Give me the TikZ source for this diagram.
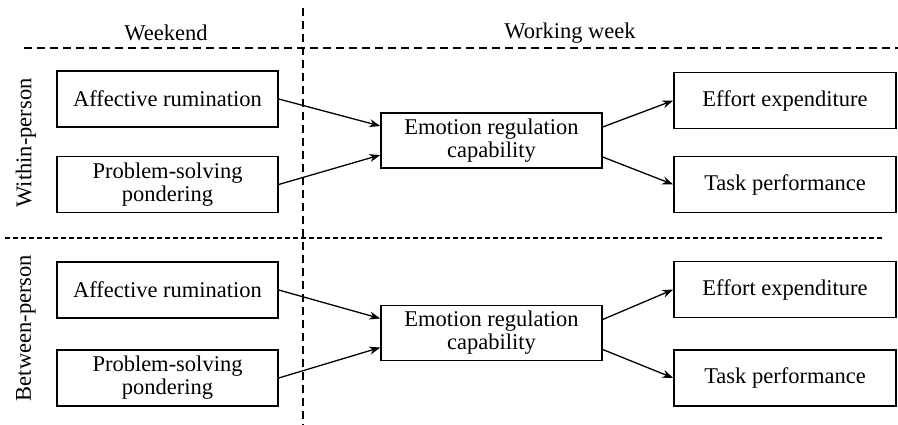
\documentclass[tikz,border=0pt]{standalone}
\usepackage{fontspec}
\setmainfont{LiberationSerif}[Extension=.ttf, UprightFont=*-Regular, BoldFont=*-Bold]
\usetikzlibrary{arrows.meta}
\begin{document}
\begin{tikzpicture}[x=1pt,y=-1pt,
  every node/.style={font=\rmfamily\fontsize{22.5}{23}\selectfont},
  varbox/.style={draw, line width=1.4pt, minimum width=221pt, minimum height=56pt,
    align=center, inner sep=0pt},
  link/.style={line width=1.3pt, -{Stealth[length=11pt,width=8pt]}},
  divider/.style={line width=1.2pt, dash pattern=on 8pt off 5pt},
  subdivider/.style={line width=1.2pt, dash pattern=on 5pt off 3pt}]
\path[use as bounding box] (0,0) rectangle (898,425);

% section dividers
\draw[divider] (303,8) -- (303,425);
\draw[divider] (24,48) -- (898,48);
\draw[subdivider] (5,238) -- (884,238);

% headings
\node (wkend) at (166,33) {Weekend};
\node (wweek) at (570,33) {Working week};
\node[rotate=90] (within) at (26,143) {Within-person};
\node[rotate=90] (between) at (26,328) {Between-person};

% within-person model
\node[varbox] (a1) at (167.5,99) {Affective rumination};
\node[varbox] (p1) at (167.5,184.5) {Problem-solving\\pondering};
\node[varbox, minimum height=55pt] (m1) at (491.5,140.5) {Emotion regulation\\capability};
\node[varbox, minimum width=222pt] (e1) at (785,100.5) {Effort expenditure};
\node[varbox, minimum width=222pt] (t1) at (785,184.5) {Task performance};

\draw[link] (a1.east) -- ([yshift=14.5pt]m1.west);
\draw[link] (p1.east) -- ([yshift=-14.5pt]m1.west);
\draw[link] ([yshift=13.5pt]m1.east) -- (e1.west);
\draw[link] ([yshift=-16.5pt]m1.east) -- (t1.west);

% between-person model
\node[varbox] (a2) at (167.5,290) {Affective rumination};
\node[varbox] (p2) at (167.5,378) {Problem-solving\\pondering};
\node[varbox, minimum height=55pt] (m2) at (491.5,333) {Emotion regulation\\capability};
\node[varbox, minimum width=222pt] (e2) at (785,289.5) {Effort expenditure};
\node[varbox, minimum width=222pt] (t2) at (785,378) {Task performance};

\draw[link] (a2.east) -- ([yshift=14.5pt]m2.west);
\draw[link] (p2.east) -- ([yshift=-14.5pt]m2.west);
\draw[link] ([yshift=13.5pt]m2.east) -- (e2.west);
\draw[link] ([yshift=-16.5pt]m2.east) -- (t2.west);
\end{tikzpicture}
\end{document}
